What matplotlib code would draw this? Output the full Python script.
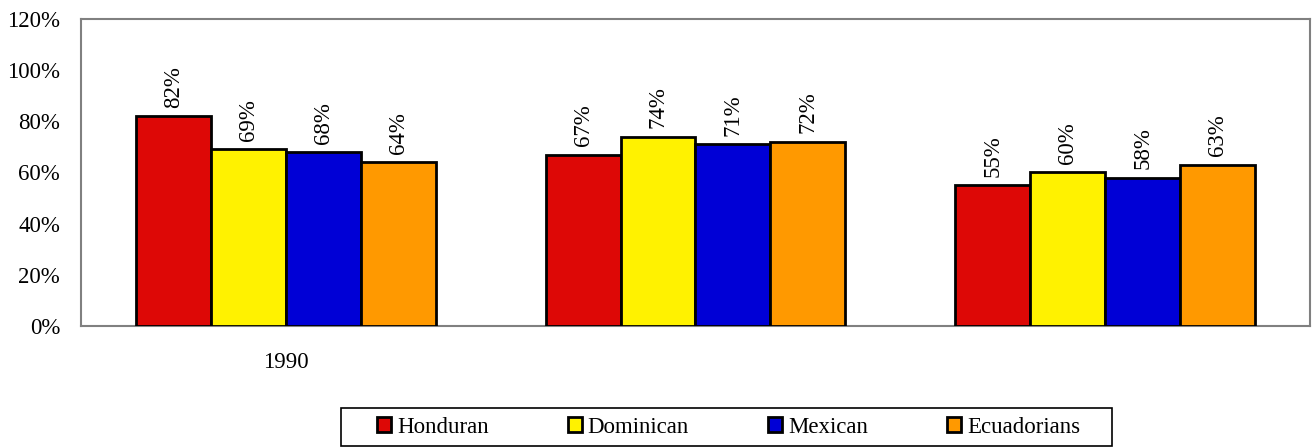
import matplotlib
matplotlib.use('Agg')
import matplotlib.pyplot as plt
from matplotlib.patches import Rectangle
import numpy as np

# 数据
groups = ['1990', '', '']
series = ['Honduran', 'Dominican', 'Mexican', 'Ecuadorians']
honduran = [82, 67, 55]
dominican = [69, 74, 60]
mexican = [68, 71, 58]
ecuadorians = [64, 72, 63]
colors = ['#DD0806', '#FFF200', '#0000D6', '#FF9900']

plt.rcParams['font.family'] = ['Liberation Serif', 'DejaVu Serif']
fs = 16.5

fig = plt.figure(figsize=(13.12, 4.47), dpi=100)
ax = fig.add_axes([0.0617, 0.2707, 0.9368, 0.6868])

x = np.arange(len(groups))
width = 0.183
values = [honduran, dominican, mexican, ecuadorians]
for i, (name, vals, c) in enumerate(zip(series, values, colors)):
    pos = x + (i - 1.5) * width
    bars = ax.bar(pos, vals, width, color=c, edgecolor='black', linewidth=2,
                  label=name, zorder=3)
    for b, v in zip(bars, vals):
        ax.annotate(f'{v}%', (b.get_x() + b.get_width() / 2, v),
                    xytext=(0, 6), textcoords='offset points',
                    ha='center', va='bottom', rotation=90, fontsize=fs)

ax.set_xlim(-0.5, 2.5)
ax.set_ylim(0, 120)
ax.set_yticks(range(0, 121, 20))
ax.set_yticklabels([f'{t}%' for t in range(0, 121, 20)], fontsize=fs)
ax.set_xticks(x)
ax.set_xticklabels(groups, fontsize=fs)
ax.tick_params(axis='both', length=0)
ax.tick_params(axis='y', pad=15)
ax.tick_params(axis='x', pad=19)
for s in ax.spines.values():
    s.set_color('#808080')
    s.set_linewidth(1.5)

# 图例（外框单独画）
leg = fig.legend(loc='center', bbox_to_anchor=(0.5553, 0.0447), ncol=4,
                 fontsize=fs, frameon=False,
                 handlelength=0.62, handleheight=0.62, handletextpad=0.25,
                 columnspacing=3.45, borderpad=0.3, borderaxespad=0)
fig.patches.append(Rectangle((0.2599, 0.003), 0.5877, 0.085,
                             transform=fig.transFigure, fill=False,
                             edgecolor='black', linewidth=1.2))

fig.savefig('out.png', dpi=100)
